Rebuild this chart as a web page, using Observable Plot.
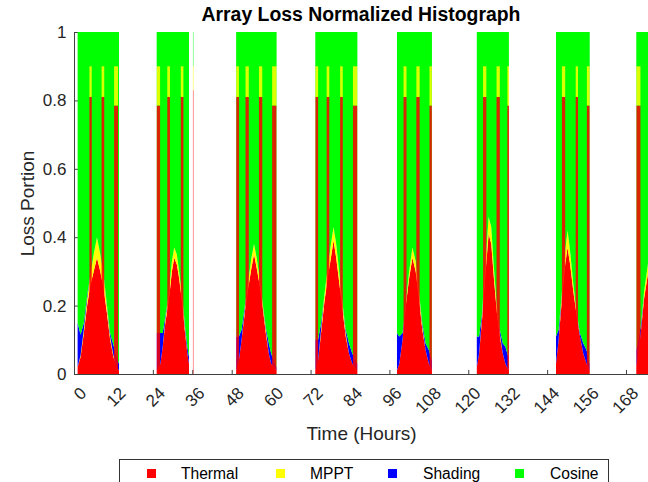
<!DOCTYPE html>
<html><head><meta charset="utf-8">
<script src="https://cdn.jsdelivr.net/npm/d3@7"></script>
<script src="https://cdn.jsdelivr.net/npm/@observablehq/plot@0.6"></script>
<style>
body{margin:0;background:#fff;font-family:"Liberation Sans",Arial,sans-serif;}
#wrap{position:relative;width:648px;height:482px;overflow:hidden;}
#title{position:absolute;left:74px;width:574px;top:2px;text-align:center;font-weight:bold;font-size:19.4px;color:#000;line-height:24px;}
#legend{position:absolute;left:119px;top:459px;width:490px;height:40px;border:1px solid #333;background:#fff;box-sizing:border-box;}
.sw{position:absolute;width:9px;height:9px;top:469px;}
.lt{position:absolute;top:464px;font-size:15.6px;color:#000;line-height:19px;}
#chart{position:absolute;left:0;top:0;}
</style></head>
<body><div id="wrap"><div id="chart"></div><div id="title">Array Loss Normalized Histograph</div><div id="legend"></div></div>
<script>
const series = ["Thermal","MPPT","Shading","Cosine"];
const colors = ["#ff0000","#ffff00","#0000ff","#00ff00"];
const xTicks = [0,12,24,36,48,60,72,84,96,108,120,132,144,156,168];
const yTicks = [0,0.2,0.4,0.6,0.8,1];

// daylight samples (hours), one block per day
const day     = [0,0,0,0,0,0,0,0,0,0,0,0,0,0, 1,1,1,1,1,1,1,1,1,1,1,1,1, 2,2,2,2,2,2,2,2,2,2,2,2,2,2, 3,3,3,3,3,3,3,3,3,3,3,3,3,3, 4,4,4,4,4,4,4,4,4,4,4,4, 5,5,5,5,5,5,5,5,5,5,5,5, 6,6,6,6,6,6,6,6,6,6,6,6, 7,7,7,7];
const hours   = [1.1,2,3,4,5,6,7,8,9,10,11,12,13,13.7,
                 25.2,26.3,27.0,27.8,28.8,29.8,30.5,31.3,32.0,33.0,33.8,34.5,35.0,
                 49.4,50.2,51.0,52.0,53.0,54.0,54.8,55.6,56.5,57.5,58.5,59.3,60.0,61.6,
                 73.5,74.3,75.2,76.2,77.2,78.2,79.0,79.8,80.7,81.7,82.7,83.7,84.7,86.2,
                 98.3,99.0,100.0,101.0,102.0,103.0,104.0,105.0,106.0,107.0,108.0,108.9,
                 122.6,123.3,124.2,125.2,126.2,127.0,127.8,128.7,129.6,130.5,131.3,132.2,
                 146.7,147.5,148.5,149.5,150.2,151.0,152.0,153.0,154.0,155.0,156.0,156.9,
                 171.2,172.5,173.5,174.8];
const thermal = [.02,.05,.12,.20,.26,.30,.34,.30,.25,.18,.10,.05,.02,.01,
                 .01,.03,.08,.15,.21,.30,.34,.32,.28,.20,.12,.06,.03,
                 .01,.04,.10,.18,.25,.31,.35,.31,.26,.19,.11,.06,.03,.01,
                 .01,.04,.12,.21,.28,.34,.39,.34,.27,.19,.11,.06,.03,.01,
                 .01,.03,.10,.20,.28,.34,.30,.22,.13,.07,.03,.01,
                 .02,.06,.16,.29,.41,.38,.28,.18,.11,.06,.03,.01,
                 .03,.10,.22,.32,.37,.32,.24,.17,.11,.06,.03,.01,
                 .02,.12,.22,.30];
const mppt    = [0,.005,.01,.02,.03,.05,.06,.05,.04,.02,.01,.005,0,0,
                 0,0,0,.01,.02,.03,.03,.03,.02,.02,.01,0,0,
                 0,0,0,.01,.02,.03,.03,.03,.02,.01,.01,0,0,0,
                 0,0,.01,.02,.03,.04,.04,.04,.03,.02,.01,0,0,0,
                 0,0,0,.01,.02,.03,.03,.02,.01,0,0,0,
                 0,0,.01,.03,.05,.05,.03,.02,.01,0,0,0,
                 0,0,.02,.04,.05,.04,.02,.01,0,0,0,0,
                 0,0,.02,.03];
const shading = [.13,.06,.02,.01,0,0,0,0,0,.005,.01,.03,.03,.02,
                 .11,.09,.04,.01,0,0,0,0,0,0,.01,.02,.02,
                 .10,.07,.03,.01,0,0,0,0,0,0,.01,.03,.03,.01,
                 .09,.06,.02,0,0,0,0,0,0,0,.01,.03,.03,.02,
                 .11,.08,.02,0,0,0,0,0,.01,.02,.04,.03,
                 .09,.05,.01,0,0,0,0,0,.01,.03,.05,.04,
                 .08,.03,0,0,0,0,0,0,.01,.03,.04,.02,
                 .05,.02,0,0];
const cosine  = [.85,.885,.85,.77,.71,.65,.60,.65,.71,.795,.88,.915,.95,.97,
                 .88,.88,.88,.83,.77,.67,.63,.65,.70,.78,.86,.92,.95,
                 .89,.89,.87,.80,.73,.66,.62,.66,.72,.80,.87,.91,.94,.98,
                 .90,.90,.85,.77,.69,.62,.57,.62,.70,.79,.87,.91,.94,.97,
                 .88,.89,.88,.79,.70,.63,.67,.76,.85,.91,.93,.96,
                 .89,.89,.82,.68,.54,.57,.69,.80,.87,.91,.92,.95,
                 .89,.87,.76,.64,.58,.64,.74,.82,.88,.91,.93,.97,
                 .93,.86,.76,.67];

// narrow spikes (hours) where the split jumps
const spikeStart   = [4.7,8.4,12.2, 25.2,28.4,32.5,36.2, 49.4,52.2,56.3,60.3, 73.5,76.9,81.0,84.9, 100.3,104.2,108.2, 124.5,128.6,131.9, 148.5,152.7,156.1, 171.2];
const spikeEnd     = [5.4,9.2,13.4, 26.2,29.2,33.3,36.35, 50.2,53.2,57.3,61.6, 74.3,77.7,81.8,86.2, 101.2,105.2,108.9, 125.5,129.6,132.4, 149.5,153.4,156.9, 172.4];
const spikeThermal = [.81,.81,.785, .785,.81,.81,.83, .81,.81,.81,.785, .81,.81,.81,.785, .81,.81,.785, .81,.81,.785, .81,.81,.785, .785];
const spikeMppt    = [.09,.09,.115, .115,.09,.09,.07, .09,.09,.09,.115, .09,.09,.09,.115, .09,.09,.115, .09,.09,.115, .09,.09,.115, .115];
const spikeCosine  = [.10,.10,.10, .10,.10,.10,.10, .10,.10,.10,.10, .10,.10,.10,.10, .10,.10,.10, .10,.10,.10, .10,.10,.10, .10];

const rows = [];
hours.forEach((h, i) => {
  const vals = [thermal[i], mppt[i], shading[i], cosine[i]];
  series.forEach((s, k) => rows.push({h, day: day[i], series: s, v: vals[k]}));
});
const spikes = [];
spikeStart.forEach((x1, i) => {
  const vals = [spikeThermal[i], spikeMppt[i], spikeCosine[i]];
  ["Thermal","MPPT","Cosine"].forEach((s, k) => spikes.push({x1, x2: spikeEnd[i], series: s, v: vals[k]}));
});

const axisColor = "#404040";
const chart = Plot.plot({
  width: 648, height: 482,
  marginLeft: 74, marginRight: 0, marginTop: 32, marginBottom: 108,
  style: {fontFamily: "Liberation Sans, Arial, sans-serif", background: "white", color: "#262626"},
  x: {type: "linear", domain: [0, 174.7], axis: null},
  y: {type: "linear", domain: [0, 1], axis: null},
  color: {domain: series, range: colors},
  marks: [
    Plot.ruleX(xTicks, {x: d => d, y1: 0, y2: 0.012, stroke: axisColor}),
    Plot.ruleY(yTicks, {y: d => d, x1: 0, x2: 1.3, stroke: axisColor}),
    Plot.areaY(rows, {x: "h", y: "v", z: d => d.series + d.day, fill: "series", curve: "linear"}),
    Plot.rectY(spikes, {x1: "x1", x2: "x2", y: "v", fill: "series", fillOpacity: 0.85}),
    Plot.ruleY([0], {stroke: axisColor, strokeWidth: 1}),
    Plot.ruleX([0], {stroke: axisColor, strokeWidth: 1}),
    Plot.text(yTicks, {y: d => d, frameAnchor: "left", dx: -8, textAnchor: "end", text: d => String(d), fontSize: 17, fill: "#262626"}),
    Plot.text(xTicks, {x: d => d, frameAnchor: "bottom", text: d => String(d), rotate: -45, textAnchor: "end", dx: 9, dy: 16, lineAnchor: "middle", fontSize: 17, fill: "#262626"}),
    Plot.text(["Loss Portion"], {frameAnchor: "left", dx: -47, rotate: -90, textAnchor: "middle", text: d => d, fontSize: 19, fill: "#262626"}),
    Plot.text(["Time (Hours)"], {frameAnchor: "bottom", dy: 65, text: d => d, fontSize: 19, fill: "#262626"})
  ]
});
document.getElementById("chart").appendChild(chart);

const wrap = document.getElementById("wrap");
const swX = [147, 276, 388, 515];
const txX = [181, 310, 423, 550];
const legendOrder = ["Thermal","MPPT","Shading","Cosine"];
legendOrder.forEach((s, i) => {
  const sw = document.createElement("div");
  sw.className = "sw"; sw.style.left = swX[i] + "px"; sw.style.background = colors[series.indexOf(s)];
  wrap.appendChild(sw);
  const t = document.createElement("div");
  t.className = "lt"; t.style.left = txX[i] + "px"; t.textContent = s;
  wrap.appendChild(t);
});
</script></body></html>
